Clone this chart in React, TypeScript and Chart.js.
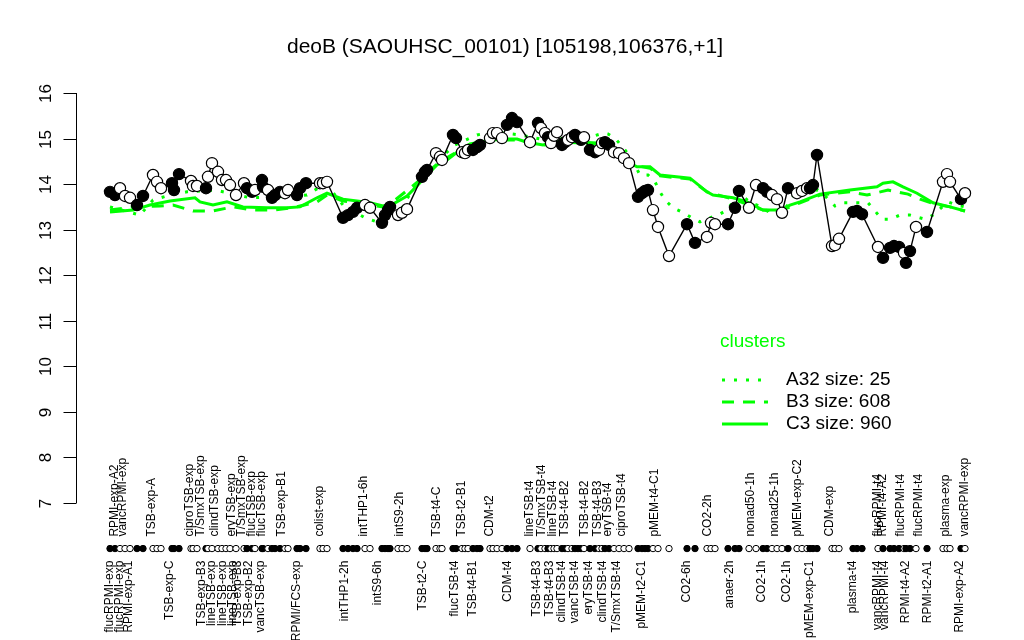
import React, { useEffect, useRef } from "react";
import { Chart, registerables } from "chart.js";

Chart.register(...registerables);

const chartTitle = "deoB (SAOUHSC_00101) [105198,106376,+1]";

// sample positions, expression values, and filled (1) / open (0) marker
const pointX = [
  1.0, 2.0, 3.0, 4.0, 5.0, 6.4, 7.6, 9.6, 10.4, 11.2,
  13.4, 13.8, 14.8, 17.2, 17.6, 18.4, 20.2, 20.6, 21.4, 22.6,
  23.4, 24.2, 25.0, 26.2, 27.8, 28.4, 29.4, 30.0, 31.4, 31.6,
  32.6, 33.4, 34.0, 35.0, 36.0, 36.6, 38.4, 39.0, 40.2, 43.0,
  43.6, 44.4, 47.6, 48.6, 49.6, 50.4, 52.0, 53.0, 55.4, 56.0,
  56.6, 57.0, 58.6, 59.4, 60.4, 63.4, 64.0, 64.4, 66.2, 67.0,
  67.4, 69.6, 70.2, 71.4, 72.0, 72.6, 73.6, 74.4, 75.0, 77.0,
  77.6, 78.4, 79.4, 80.4, 81.4, 82.4, 85.0, 86.6, 87.2, 88.0,
  88.6, 89.2, 89.8, 90.4, 91.4, 92.0, 92.6, 93.4, 94.0, 94.6,
  95.2, 95.8, 97.0, 98.0, 98.8, 99.4, 100.0, 100.8, 101.8, 102.8,
  103.8, 104.8, 106.6, 107.4, 108.0, 108.6, 109.6, 110.6, 112.8, 116.4,
  118.0, 120.4, 121.2, 122.0, 124.6, 126.0, 126.8, 128.8, 130.2, 131.6,
  132.4, 133.4, 134.4, 135.4, 136.6, 138.4, 139.4, 140.4, 141.0, 141.6,
  142.4, 145.4, 146.0, 146.8, 149.6, 150.4, 151.4, 154.6, 155.6, 157.0,
  157.8, 158.8, 159.8, 160.2, 161.0, 162.2, 164.4, 167.6, 168.4, 169.0,
  171.2, 172.0,
];
const pointY = [
  13.83, 13.76, 13.91, 13.74, 13.70, 13.54, 13.74, 14.20, 14.05, 13.91,
  14.02, 13.87, 14.22, 14.07, 13.96, 13.96, 13.91, 14.16, 14.46, 14.27,
  14.09, 14.09, 13.98, 13.76, 14.02, 13.91, 13.83, 13.87, 14.09, 13.94,
  13.87, 13.70, 13.76, 13.83, 13.80, 13.87, 13.76, 13.91, 14.02, 14.02,
  14.02, 14.05, 13.26, 13.32, 13.39, 13.48, 13.54, 13.48, 13.15, 13.32,
  13.43, 13.50, 13.32, 13.37, 13.45, 14.16, 14.27, 14.31, 14.68, 14.60,
  14.53, 15.08, 15.01, 14.70, 14.68, 14.75, 14.75, 14.81, 14.86, 15.01,
  15.12, 15.12, 15.01, 15.30, 15.45, 15.36, 14.92, 15.34, 15.23, 15.12,
  15.03, 14.90, 15.06, 15.14, 14.86, 14.92, 14.97, 15.03, 15.08, 15.03,
  14.97, 15.03, 14.75, 14.70, 14.75, 14.90, 14.92, 14.86, 14.70, 14.68,
  14.57, 14.46, 13.72, 13.80, 13.85, 13.87, 13.43, 13.06, 12.42, 13.12,
  12.71, 12.84, 13.15, 13.12, 13.12, 13.48, 13.85, 13.48, 13.98, 13.91,
  13.83, 13.76, 13.67, 13.37, 13.91, 13.80, 13.85, 13.91, 13.91, 13.98,
  14.64, 12.64, 12.66, 12.80, 13.39, 13.41, 13.34, 12.62, 12.38, 12.60,
  12.64, 12.62, 12.49, 12.27, 12.53, 13.06, 12.95, 14.05, 14.22, 14.05,
  13.67, 13.80,
];
const pointFilled = [
  1, 1, 0, 0, 0, 1, 1, 0, 0, 0,
  1, 1, 1, 0, 0, 0, 1, 0, 0, 0,
  0, 0, 0, 0, 0, 1, 1, 0, 1, 1,
  0, 1, 1, 1, 0, 0, 1, 1, 1, 0,
  0, 0, 1, 1, 1, 1, 0, 0, 1, 1,
  1, 1, 0, 0, 0, 1, 1, 1, 0, 0,
  0, 1, 1, 0, 0, 0, 1, 1, 1, 0,
  0, 0, 0, 1, 1, 1, 0, 1, 0, 0,
  1, 0, 0, 0, 1, 1, 0, 0, 1, 1,
  1, 0, 1, 1, 0, 0, 1, 1, 0, 0,
  0, 0, 1, 1, 1, 1, 0, 0, 0, 1,
  1, 0, 0, 0, 1, 1, 1, 0, 0, 1,
  1, 0, 0, 0, 1, 0, 0, 0, 1, 1,
  1, 0, 0, 0, 1, 1, 1, 0, 1, 1,
  1, 1, 0, 1, 1, 0, 1, 0, 0, 0,
  1, 0,
];

// cluster mean profiles
const c3X = [1.0, 5.6, 9.0, 13.0, 18.0, 19.0, 21.6, 24.4, 27.6, 32.4, 36.4, 39.0, 42.4, 44.4, 47.6, 50.4, 53.0, 55.6, 57.6, 60.4, 62.4, 64.4, 66.4, 68.4, 70.4, 73.0, 76.4, 79.6, 82.4, 84.4, 87.6, 91.6, 95.6, 98.4, 101.6, 103.0, 105.0, 106.4, 109.0, 111.0, 117.0, 120.4, 121.6, 125.6, 128.4, 131.6, 135.0, 137.0, 139.0, 143.0, 149.0, 154.4, 155.6, 157.6, 159.6, 162.4, 165.6, 169.0, 172.0];
const c3Y = [13.39, 13.43, 13.54, 13.63, 13.70, 13.61, 13.54, 13.61, 13.50, 13.48, 13.48, 13.50, 13.70, 13.80, 13.67, 13.63, 13.59, 13.52, 13.56, 13.74, 13.96, 14.20, 14.42, 14.53, 14.70, 14.88, 14.95, 14.99, 14.99, 14.92, 14.86, 14.97, 14.92, 14.90, 14.81, 14.68, 14.46, 14.38, 14.38, 14.20, 14.13, 13.83, 13.76, 13.70, 13.61, 13.43, 13.43, 13.54, 13.61, 13.78, 13.87, 13.94, 14.02, 14.05, 13.94, 13.80, 13.59, 13.50, 13.41];
const b3X = [1.0, 5.6, 11.0, 13.6, 17.6, 21.6, 25.6, 29.6, 33.6, 37.6, 42.4, 44.4, 47.6, 53.0, 55.6, 58.0, 61.0, 63.0, 65.0, 67.0, 70.0, 73.0, 77.0, 83.0, 88.0, 92.0, 96.0, 99.0, 102.0, 104.0, 105.4, 109.0, 111.0, 117.0, 120.4, 125.6, 131.6, 135.0, 139.0, 143.0, 149.0, 152.4, 156.6, 160.6, 163.0, 166.0, 169.0, 172.0];
const b3Y = [13.43, 13.50, 13.52, 13.54, 13.41, 13.41, 13.50, 13.43, 13.43, 13.48, 13.61, 13.76, 13.63, 13.54, 13.50, 13.65, 13.91, 14.09, 14.31, 14.49, 14.68, 14.86, 14.97, 14.97, 14.86, 14.92, 14.90, 14.88, 14.79, 14.57, 14.42, 14.35, 14.18, 14.11, 13.83, 13.67, 13.43, 13.41, 13.59, 13.76, 13.83, 13.76, 13.87, 13.78, 13.67, 13.56, 13.50, 13.41];
const a32X = [1.0, 7.0, 9.6, 13.0, 16.4, 22.0, 29.0, 34.4, 40.4, 43.0, 44.4, 47.6, 52.0, 54.4, 57.0, 59.0, 61.4, 64.0, 67.0, 70.0, 74.4, 76.4, 80.0, 83.0, 88.0, 93.0, 97.0, 99.6, 100.6, 102.0, 104.0, 105.4, 107.0, 108.6, 110.0, 111.0, 112.0, 113.6, 115.4, 117.4, 119.0, 121.0, 122.6, 124.4, 125.6, 127.0, 129.0, 130.4, 133.6, 135.6, 137.6, 139.6, 142.6, 144.4, 146.0, 147.6, 152.6, 154.0, 155.4, 157.0, 159.0, 161.0, 164.0, 165.6, 168.6, 170.4, 172.0];
const a32Y = [13.50, 13.32, 13.65, 13.76, 13.83, 13.87, 13.70, 13.72, 13.76, 13.94, 13.98, 13.54, 13.26, 13.17, 13.17, 13.39, 13.87, 14.20, 14.57, 14.86, 15.08, 15.12, 15.12, 15.08, 14.97, 15.01, 15.03, 15.12, 15.10, 15.01, 14.75, 14.53, 14.20, 14.20, 14.05, 13.83, 13.65, 13.48, 13.39, 13.26, 13.17, 13.26, 13.32, 13.43, 13.61, 13.80, 13.59, 13.54, 13.34, 13.39, 13.72, 13.83, 13.87, 13.70, 13.52, 13.59, 13.59, 13.41, 13.23, 13.23, 13.32, 13.32, 13.23, 13.32, 13.61, 13.54, 13.50];

const topLabels = ["RPMI-exp-A2", "vancRPMI-exp", "TSB-exp-A", "ciproTSB-exp", "T/SmxTSB-exp", "clindTSB-exp", "eryTSB-exp", "T/SmxTSB-exp", "flucTSB-exp", "flucTSB-exp", "TSB-exp-B1", "colist-exp", "intTHP1-6h", "intS9-2h", "TSB-t4-C", "TSB-t2-B1", "CDM-t2", "lineTSB-t4", "T/SmxTSB-t4", "lineTSB-t4", "TSB-t4-B2", "TSB-t4-B2", "TSB-t4-B3", "eryTSB-t4", "ciproTSB-t4", "pMEM-t4-C1", "CO2-2h", "nonad50-1h", "nonad25-1h", "pMEM-exp-C2", "CDM-exp", "flucRPMI-t4", "RPMI-t4-A2", "flucRPMI-t4", "flucRPMI-t4", "plasma-exp", "vancRPMI-exp"];
const topLabelX = [2.0, 3.6, 9.4, 17.0, 19.2, 22.0, 25.4, 27.4, 29.4, 31.4, 35.4, 43.0, 51.8, 59.0, 66.4, 71.4, 77.0, 85.0, 87.4, 89.6, 92.0, 96.0, 98.6, 100.6, 103.4, 110.0, 120.6, 129.2, 134.0, 138.6, 145.0, 154.6, 155.6, 159.2, 162.8, 168.2, 172.0];
const bottomLabels = ["flucRPMI-exp", "flucRPMI-exp", "RPMI-exp-A1", "TSB-exp-C", "TSB-exp-B3", "lineTSB-exp", "lineTSB-exp", "lineTSB-exp", "TSB-exp-B3", "TSB-exp-B2", "vancTSB-exp", "RPMI/FCS-exp", "intTHP1-2h", "intS9-6h", "TSB-t2-C", "flucTSB-t4", "TSB-t4-B1", "CDM-t4", "TSB-t4-B3", "TSB-t4-B3", "clindTSB-t4", "vancTSB-t4", "eryTSB-t4", "clindTSB-t4", "T/SmxTSB-t4", "pMEM-t2-C1", "CO2-6h", "anaer-2h", "CO2-1h", "CO2-1h", "pMEM-exp-C1", "plasma-t4", "vancRPMI-t4", "vancRPMI-t4", "RPMI-t4-A2", "RPMI-t2-A1", "RPMI-exp-A2"];
const bottomLabelX = [1.0, 3.0, 4.8, 13.0, 19.4, 21.4, 23.6, 25.6, 26.6, 28.8, 31.2, 38.4, 48.0, 54.6, 63.6, 70.0, 73.6, 80.6, 86.4, 89.0, 91.4, 94.0, 96.8, 99.6, 102.4, 107.4, 116.4, 125.0, 131.4, 136.4, 141.0, 149.6, 154.6, 156.0, 160.2, 164.6, 171.0];

const yTicks = [7, 8, 9, 10, 11, 12, 13, 14, 15, 16];
const markerRowValue = 6;
const legendTitle = "clusters";
const legendLabels = ["A32 size: 25", "B3 size: 608", "C3 size: 960"];

const GREEN = "#00ff00";
const FONT = '"Liberation Sans", Arial, Helvetica, sans-serif';
const DOTTED = [3, 9];
const DASHED = [12, 9];

const overlayPlugin = {
  id: "overlay",
  afterDraw(chart: any) {
    const ctx = chart.ctx as CanvasRenderingContext2D;
    const xs = chart.scales.x;
    const ys = chart.scales.y;
    const area = chart.chartArea;
    ctx.save();
    ctx.fillStyle = "#000";
    // title
    ctx.font = `21px ${FONT}`;
    ctx.textAlign = "center";
    ctx.textBaseline = "middle";
    ctx.fillText(chartTitle, 505, 47);

    // y axis
    const axisX = Math.round(area.left) + 0.5;
    const yTop = ys.getPixelForValue(yTicks[yTicks.length - 1]);
    const yBot = ys.getPixelForValue(yTicks[0]);
    ctx.strokeStyle = "#000";
    ctx.lineWidth = 1;
    ctx.setLineDash([]);
    ctx.beginPath();
    ctx.moveTo(axisX, yTop);
    ctx.lineTo(axisX, yBot);
    ctx.stroke();
    ctx.font = `17px ${FONT}`;
    for (const t of yTicks) {
      const py = Math.round(ys.getPixelForValue(t)) + 0.5;
      ctx.beginPath();
      ctx.moveTo(axisX - 13, py);
      ctx.lineTo(axisX, py);
      ctx.stroke();
      ctx.save();
      ctx.translate(axisX - 26, py);
      ctx.rotate(-Math.PI / 2);
      ctx.textAlign = "center";
      ctx.textBaseline = "alphabetic";
      ctx.fillText(String(t), 0, 0);
      ctx.restore();
    }

    // condition labels
    const rowY = ys.getPixelForValue(markerRowValue);
    ctx.font = `12px ${FONT}`;
    ctx.textBaseline = "middle";
    topLabels.forEach((lab, i) => {
      const px = xs.getPixelForValue(topLabelX[i]);
      ctx.save();
      ctx.translate(px, rowY - 12);
      ctx.rotate(-Math.PI / 2);
      ctx.textAlign = "left";
      ctx.fillText(lab, 0, 0);
      ctx.restore();
    });
    bottomLabels.forEach((lab, i) => {
      const px = xs.getPixelForValue(bottomLabelX[i]);
      ctx.save();
      ctx.translate(px, rowY + 12);
      ctx.rotate(-Math.PI / 2);
      ctx.textAlign = "right";
      ctx.fillText(lab, 0, 0);
      ctx.restore();
    });

    // legend
    const lx = 720;
    ctx.font = `19px ${FONT}`;
    ctx.textAlign = "left";
    ctx.textBaseline = "middle";
    ctx.fillStyle = GREEN;
    ctx.fillText(legendTitle, lx, 342);
    const styles = [DOTTED, DASHED, []];
    legendLabels.forEach((lab, i) => {
      const y = 380 + 22 * i;
      ctx.strokeStyle = GREEN;
      ctx.lineWidth = 3;
      ctx.setLineDash(styles[i]);
      ctx.beginPath();
      ctx.moveTo(lx + 2, y);
      ctx.lineTo(lx + 48, y);
      ctx.stroke();
      ctx.setLineDash([]);
      ctx.fillStyle = "#000";
      ctx.fillText(lab, lx + 66, y);
    });
    ctx.restore();
  },
};

export default function App() {
  const ref = useRef<HTMLCanvasElement | null>(null);
  useEffect(() => {
    if (!ref.current) return;
    const pts = pointX.map((x, i) => ({ x, y: pointY[i] }));
    const fills = pointFilled.map((f) => (f ? "#000000" : "#ffffff"));
    const rows = pointX.map((x) => ({ x, y: markerRowValue }));
    const pxPerUnit = 410 / 9;
    const chart = new Chart(ref.current, {
      type: "scatter",
      data: {
        datasets: [
          {
            label: "samples",
            data: pts,
            showLine: true,
            borderColor: "#000",
            borderWidth: 1.4,
            pointRadius: 5.6,
            pointBorderWidth: 1.2,
            pointBorderColor: "#000",
            pointBackgroundColor: fills,
            clip: false as any,
            order: 0,
          },
          {
            label: "C3",
            data: c3X.map((x, i) => ({ x, y: c3Y[i] })),
            showLine: true,
            borderColor: GREEN,
            borderWidth: 3,
            pointRadius: 0,
            order: 3,
          },
          {
            label: "B3",
            data: b3X.map((x, i) => ({ x, y: b3Y[i] })),
            showLine: true,
            borderColor: GREEN,
            borderWidth: 3,
            borderDash: DASHED,
            pointRadius: 0,
            order: 2,
          },
          {
            label: "A32",
            data: a32X.map((x, i) => ({ x, y: a32Y[i] })),
            showLine: true,
            borderColor: GREEN,
            borderWidth: 3,
            borderDash: DOTTED,
            borderCapStyle: "butt",
            pointRadius: 0,
            order: 1,
          },
          {
            label: "markers",
            data: rows,
            showLine: false,
            pointRadius: 3.2,
            pointBorderWidth: 1,
            pointBorderColor: "#000",
            pointBackgroundColor: fills,
            order: 4,
          },
        ],
      },
      options: {
        responsive: false,
        animation: false,
        events: [],
        layout: {
          padding: {
            left: 76,
            right: 24,
            top: 93 - 0.5 * pxPerUnit,
            bottom: 640 - (503 + 2 * pxPerUnit),
          },
        },
        plugins: {
          legend: { display: false },
          title: { display: false },
          tooltip: { enabled: false },
        },
        scales: {
          x: { type: "linear", min: -5.8, max: 179, display: false },
          y: { type: "linear", min: 5, max: 16.5, display: false },
        },
      },
      plugins: [overlayPlugin],
    });
    return () => chart.destroy();
  }, []);
  return (
    <div style={{ position: "absolute", left: 0, top: 0, width: 1024, height: 640, background: "#fff" }}>
      <canvas ref={ref} width={1024} height={640} style={{ display: "block" }} />
    </div>
  );
}
